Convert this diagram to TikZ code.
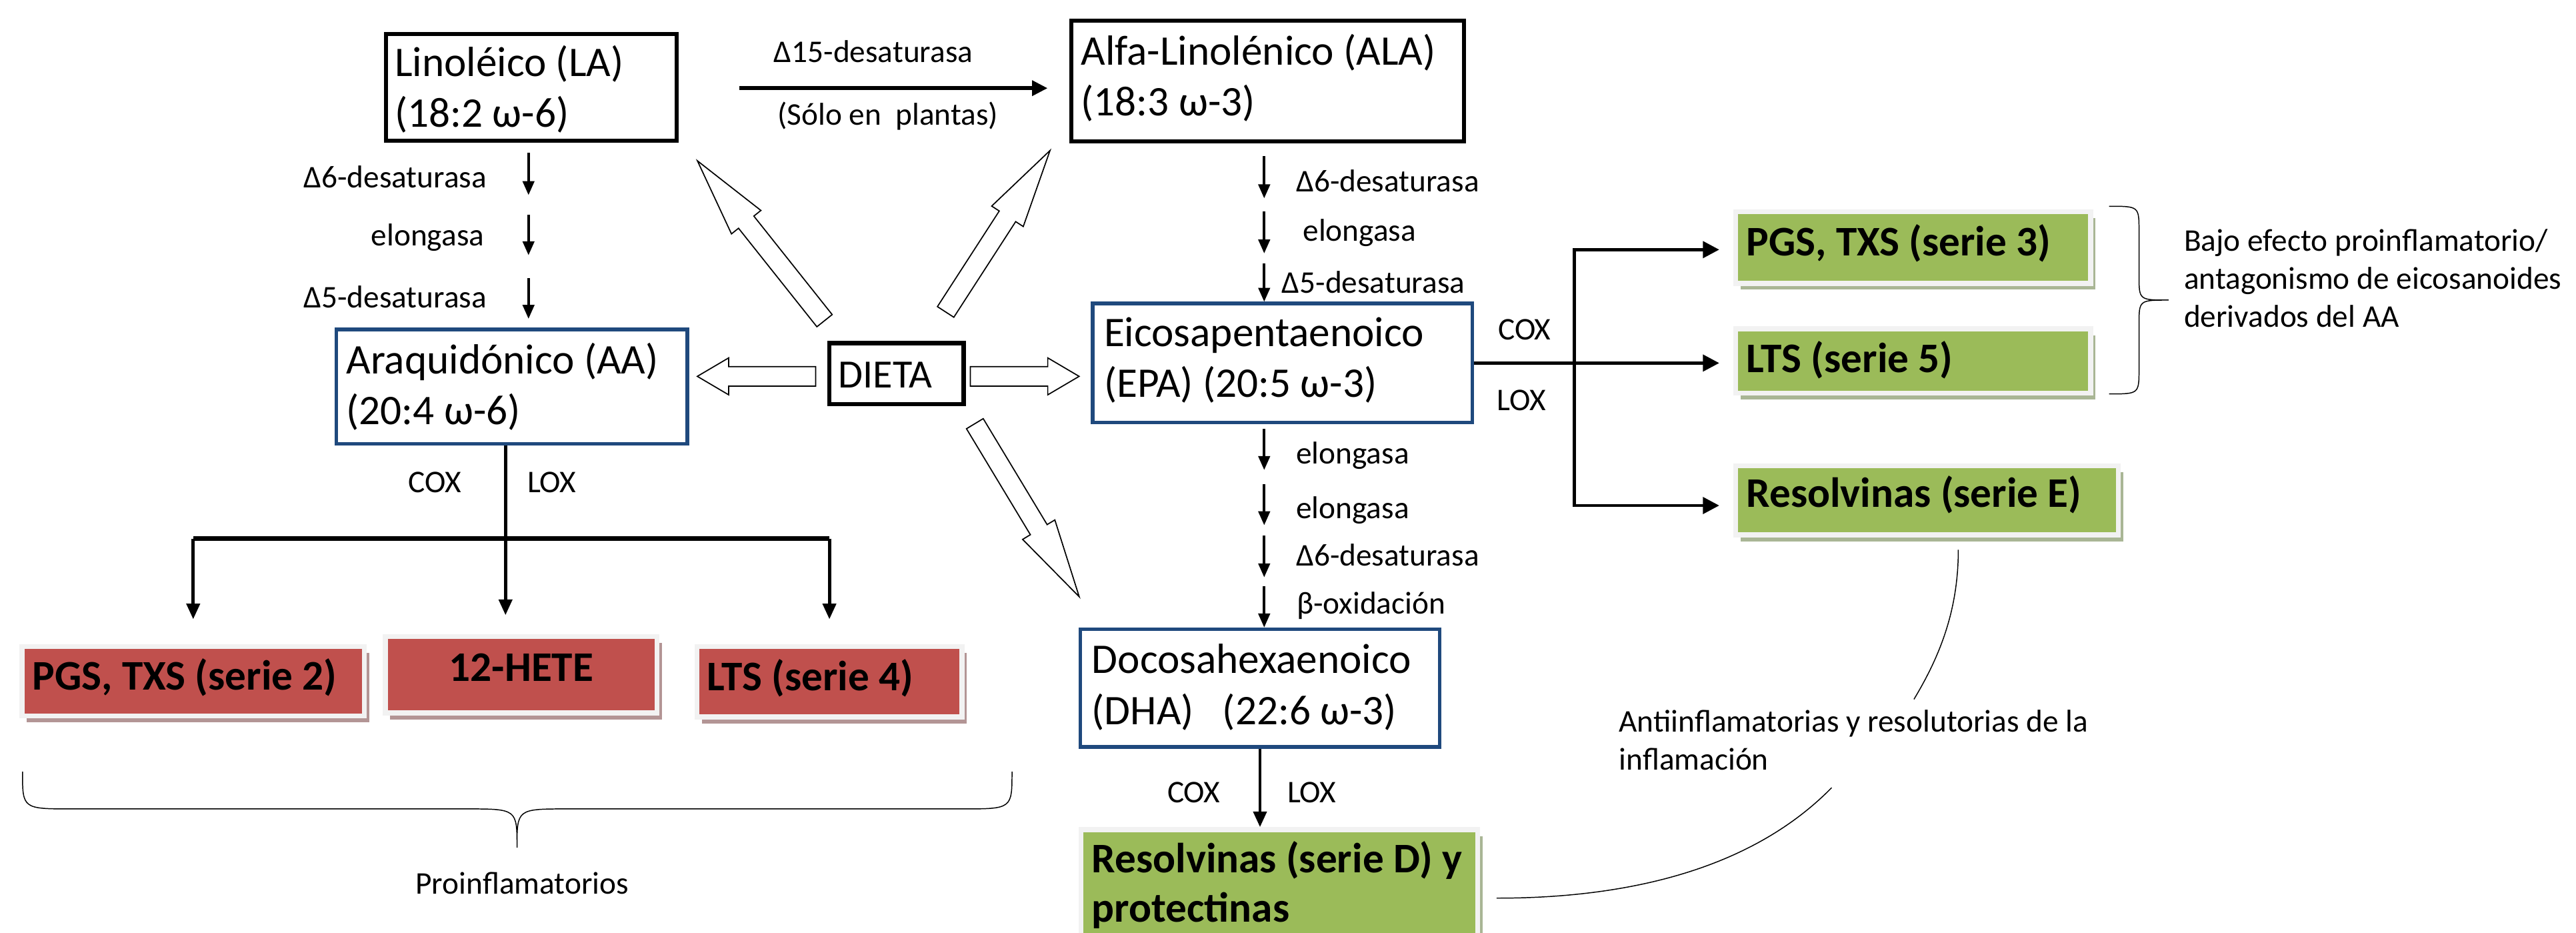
\documentclass[tikz,border=0pt]{standalone}
\usepackage{fontspec}
\setmainfont{Carlito}
\usetikzlibrary{arrows.meta,shapes.arrows,shadows,calc}

\definecolor{omegablue}{HTML}{1F497D}
\definecolor{proinf}{HTML}{C0504D}
\definecolor{proinfshade}{HTML}{B39595}
\definecolor{antiinf}{HTML}{9BBB59}
\definecolor{antiinfshade}{HTML}{A9B695}
\definecolor{framegray}{HTML}{F2F2F2}

\begin{document}
\begin{tikzpicture}[x=1pt, y=-1pt, line width=0.6pt,
  every node/.style={inner sep=0pt},
  acid/.style={draw=black, line width=2.5pt},
  acidblue/.style={draw=omegablue, line width=2.2pt},
  big/.style={font=\fontsize{25.66pt}{30.9pt}\selectfont, anchor=base west},
  bigb/.style={font=\fontsize{25.66pt}{30pt}\selectfont\bfseries, anchor=base west},
  enz/.style={font=\fontsize{19.2pt}{23.3pt}\selectfont, anchor=base west},
  prod/.style={draw=framegray, line width=3pt, fill=#1,
    drop shadow={shadow xshift=3pt, shadow yshift=-3.9pt, fill=#1shade, opacity=1}},
  enzarrow/.style={line width=1.6pt, -{Triangle[length=8.5pt,width=7pt]}},
  desat/.style={line width=2.5pt, -{Triangle[length=9.5pt,width=9pt]}},
  branch/.style={line width=2pt, -{Triangle[length=9.5pt,width=8pt]}},
  fork/.style={line width=2pt, -{Triangle[length=10pt,width=10pt]}},
  hollow/.style={single arrow, draw, fill=white, line width=0.7pt, inner ysep=5.6pt,
    single arrow head extend=5.3pt, single arrow tip angle=61, anchor=tail},
  hollowlong/.style={hollow, single arrow head extend=5.5pt, single arrow tip angle=27}]
  \useasboundingbox (0,0) rectangle (1568,567.7);
  \clip (0,0) rectangle (1568,567.7);

  % acidos grasos
  \node[acid, minimum width=176.7pt, minimum height=65.2pt] (la) at (323.4,53.15) {};
  \node[acid, minimum width=239.3pt, minimum height=73.7pt] (ala) at (771.6,49.3) {};
  \node[acidblue, minimum width=213.7pt, minimum height=69.6pt] (aa) at (311.55,235.3) {};
  \node[acidblue, minimum width=231pt, minimum height=72.4pt] (epa) at (780.6,220.9) {};
  \node[acidblue, minimum width=218.9pt, minimum height=71.6pt] (dha) at (766.95,418.7) {};
  \node[acid, minimum width=81.9pt, minimum height=37pt] (dieta) at (545.6,227.25) {};

  \node[big] (la-t) at (240,46.6) {\begin{tabular}[t]{@{}l@{}}Linoléico (LA)\\(18:2 ω-6)\end{tabular}};
  \node[big] (ala-t) at (657.7,39.6) {\begin{tabular}[t]{@{}l@{}}Alfa-Linolénico (ALA)\\(18:3 ω-3)\end{tabular}};
  \node[big] (aa-t) at (210.5,227.4) {\begin{tabular}[t]{@{}l@{}}Araquidónico (AA)\\(20:4 ω-6)\end{tabular}};
  \node[big] (epa-t) at (671.7,210.8) {\begin{tabular}[t]{@{}l@{}}Eicosapentaenoico\\(EPA) (20:5 ω-3)\end{tabular}};
  \node[big] (dha-t) at (664.3,409.8) {\begin{tabular}[t]{@{}l@{}}Docosahexaenoico\\(DHA)\ \ \ (22:6 ω-3)\end{tabular}};
  \node[big, font=\fontsize{24.4pt}{29pt}\selectfont] (dieta-t) at (510,236) {DIETA};

  % dieta
  \node[hollow, minimum height=72pt, rotate=180] (toaa) at (496.8,229) {};
  \node[hollow, minimum height=66.2pt] (toepa) at (590.3,229) {};
  \node[hollowlong, minimum height=124.3pt, rotate=128.5] (tola) at (502.1,195.4) {};
  \node[hollowlong, minimum height=117pt, rotate=57.1] (toala) at (575.4,190.1) {};
  \node[hollowlong, minimum height=123pt, rotate=-58.9] (todha) at (593.2,257.5) {};

  % eicosanoides
  \node[prod=antiinf, minimum width=216pt, minimum height=43.6pt] (p3) at (1164.5,150.6) {};
  \node[prod=antiinf, minimum width=216pt, minimum height=39.2pt] (l5) at (1164.5,219.7) {};
  \node[prod=antiinf, minimum width=233pt, minimum height=42pt] (re) at (1173,304.5) {};
  \node[prod=proinf, minimum width=208.4pt, minimum height=42.4pt] (p2) at (117.6,414.5) {};
  \node[prod=proinf, minimum width=165.4pt, minimum height=46.4pt] (hete) at (317.2,410.6) {};
  \node[prod=proinf, minimum width=161.3pt, minimum height=42.8pt] (l4) at (504.85,414.9) {};
  \node[prod=antiinf, minimum width=241.5pt, minimum height=85pt] (rd) at (778.75,547.3) {};

  \node[bigb] (p3-t) at (1062.7,155.5) {PGS, TXS (serie 3)};
  \node[bigb] (l5-t) at (1062.7,226.8) {LTS (serie 5)};
  \node[bigb] (re-t) at (1062.7,308.8) {Resolvinas (serie E)};
  \node[bigb] (p2-t) at (19.5,419.8) {PGS, TXS (serie 2)};
  \node[bigb, anchor=base] (hete-t) at (317.3,414.6) {12-HETE};
  \node[bigb] (l4-t) at (430,420) {LTS (serie 4)};
  \node[bigb] (rd-t) at (664.3,531) {\begin{tabular}[t]{@{}l@{}}Resolvinas (serie D) y\\protectinas\end{tabular}};

  % LA -> ALA
  \draw[desat] ($(la.east)+(37.2,0.5)$) -- ($(la.east -| ala.west)+(-13,0.5)$);
  \node[enz] (d15) at (470.8,37.9) {Δ15-desaturasa};
  \node[enz] (plantas) at (473,76) {(Sólo en\ \ plantas)};

  % LA -> AA
  \draw[enzarrow] (321.7,93) -- (321.7,118.7);
  \draw[enzarrow] (321.7,130.5) -- (321.7,155.3);
  \draw[enzarrow] (321.7,169.3) -- (321.7,194);
  \node[enz, anchor=base east] (la-d6) at (296.5,114.3) {Δ6-desaturasa};
  \node[enz, anchor=base east] (la-el) at (295,149.7) {elongasa};
  \node[enz, anchor=base east] (la-d5) at (296.5,187.3) {Δ5-desaturasa};

  % ALA -> EPA
  \draw[enzarrow] (769.5,95) -- (769.5,120.7);
  \draw[enzarrow] (769.5,128.6) -- (769.5,154.2);
  \draw[enzarrow] (769.5,160.3) -- ($(epa.north)+(-11.1,0)$);
  \node[enz] (ala-d6) at (788.7,116.5) {Δ6-desaturasa};
  \node[enz] (ala-el) at (792.8,146.8) {elongasa};
  \node[enz] (ala-d5) at (780,178.2) {Δ5-desaturasa};

  % EPA -> DHA
  \draw[enzarrow] (769.5,261) -- (769.5,286);
  \draw[enzarrow] (769.5,294.8) -- (769.5,319.6);
  \draw[enzarrow] (769.5,326) -- (769.5,351.3);
  \draw[enzarrow] (769.5,356.5) -- ($(dha.north)+(2.55,0)$);
  \node[enz] (epa-el1) at (788.7,282.4) {elongasa};
  \node[enz] (epa-el2) at (788.7,315.7) {elongasa};
  \node[enz] (epa-d6) at (788.7,344.3) {Δ6-desaturasa};
  \node[enz] (epa-box) at (789,373.7) {β-oxidación};

  % AA -> serie 2
  \coordinate (aafork) at (307.7,327.7);
  \draw[line width=1.9pt] ($(aa.south)+(-3.85,0)$) -- (aafork);
  \draw[line width=2.5pt] (aafork -| p2) -- (aafork -| l4);
  \draw[branch] (aafork -| p2) -- ($(p2.north)+(0,-15)$);
  \draw[branch] (aafork) -- ($(hete.north -| aafork)+(0,-11.6)$);
  \draw[branch] (aafork -| l4) -- ($(l4.north)+(0,-15.2)$);
  \node[enz, anchor=base east] (aa-cox) at (281,299.7) {COX};
  \node[enz] (aa-lox) at (320.7,299.7) {LOX};

  % EPA -> serie 3, 5, E
  \coordinate (epafork) at (958.2,220.9);
  \draw[fork] (epa.east |- epafork) -- ($(l5.west |- epafork)+(-8.5,0)$);
  \draw[fork, {Triangle[length=10pt,width=10pt]}-{Triangle[length=10pt,width=10pt]}]
    ($(p3.west)+(-8.5,1.3)$) -| (epafork) |- ($(re.west)+(-8.5,3.1)$);
  \node[enz] (epa-cox) at (911.6,206.9) {COX};
  \node[enz] (epa-lox) at (911,249.7) {LOX};

  % DHA -> serie D
  \draw[branch] (dha.south) -- (dha.south |- rd.north);
  \node[enz, anchor=base east] (dha-cox) at (743,488.5) {COX};
  \node[enz] (dha-lox) at (783.3,488.5) {LOX};

  % llaves y notas
  \draw (1283.8,125.5) .. controls (1302,125.5) .. (1302,140.7) -- (1302,167.7)
    .. controls (1302,182.6) .. (1320,182.6) .. controls (1302,182.6) .. (1302,197.5)
    -- (1302,224.5) .. controls (1302,239.7) .. (1283.8,239.7);
  \node[enz] (bajo) at (1329.1,152.6) {\begin{tabular}[t]{@{}l@{}}Bajo efecto proinflamatorio/\\antagonismo de eicosanoides\\derivados del AA\end{tabular}};

  \draw (13.7,469.6) .. controls (13.7,492.2) .. (44,492.2) -- (283.7,492.2)
    .. controls (314.7,492.2) .. (314.7,515.7) .. controls (314.7,492.2) .. (345.7,492.2)
    -- (585.5,492.2) .. controls (616,492.2) .. (616,469.6);
  \node[enz, anchor=base] (proinf-t) at (317.8,543.8) {Proinflamatorios};

  \node[enz] (antiinf-t) at (985.2,445.3) {\begin{tabular}[t]{@{}l@{}}Antiinflamatorias y resolutorias de la\\inflamación\end{tabular}};
  \draw ($(re.south)+(19,7.5)$) .. controls +(0,38) and +(15,-25) .. ($(re.south)+(-8,98.5)$);
  \draw (1114.9,479.3) .. controls (1070,525) and (1000,546.5) .. ($(rd.east)+(10,-0.8)$);
\end{tikzpicture}
\end{document}
